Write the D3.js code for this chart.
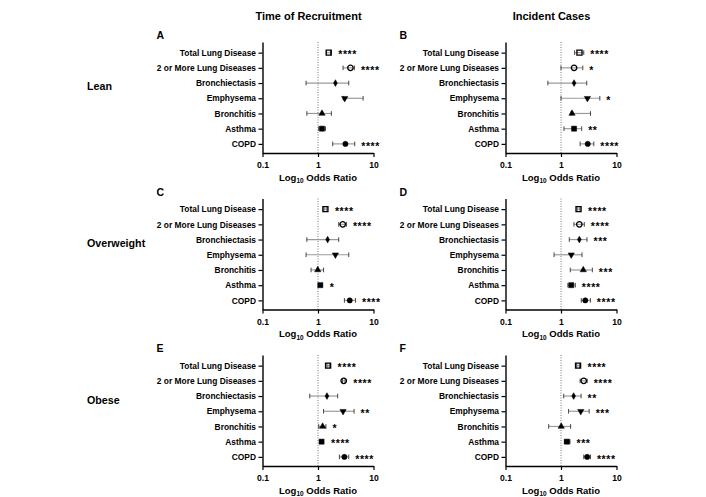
<!DOCTYPE html>
<html><head><meta charset="utf-8">
<script src="https://cdn.jsdelivr.net/npm/d3@7"></script>
<style>
body{margin:0;background:#fff;}
text{font-family:"Liberation Sans",Arial,sans-serif;font-weight:bold;fill:#000;}
</style></head>
<body><svg id="c" width="706" height="497"></svg>
<script>
const categories = ["Total Lung Disease","2 or More Lung Diseases","Bronchiectasis","Emphysema","Bronchitis","Asthma","COPD"];
const markers = ["openSquare","openCircle","diamond","triDown","triUp","square","circle"];
const columnTitles = ["Time of Recruitment","Incident Cases"];
const rowTitles = ["Lean","Overweight","Obese"];
const panelLetters = ["A","B","C","D","E","F"];
const tickValues = [0.1, 1, 10];
const tickLabels = ["0.1","1","10"];

// Odds ratios, lower CI, upper CI, significance per panel
const orA = [1.56, 3.84, 2.06, 3.03, 1.18, 1.18, 3.12];
const loA = [1.42, 2.83, 0.61, 2.85, 0.63, 1.03, 1.84];
const hiA = [1.68, 4.53, 3.58, 6.50, 1.74, 1.36, 4.59];
const sigA = ["****","****","","","","","****"];

const orB = [2.15, 1.72, 1.72, 2.99, 1.58, 1.72, 3.03];
const loB = [1.76, 1.00, 0.58, 1.00, 1.52, 1.13, 2.21];
const hiB = [2.57, 2.47, 2.91, 5.01, 3.40, 2.36, 3.90];
const sigB = ["****","*","","*","","**","****"];

const orC = [1.36, 2.79, 1.49, 2.06, 0.99, 1.10, 3.73];
const loC = [1.28, 2.36, 0.63, 0.61, 0.75, 1.02, 2.99];
const hiC = [1.45, 3.25, 2.36, 3.58, 1.26, 1.18, 4.73];
const sigC = ["****","****","","","","*","****"];

const orD = [2.07, 2.14, 2.14, 1.53, 2.52, 1.53, 2.74];
const loD = [1.95, 1.71, 1.41, 0.75, 1.47, 1.33, 2.32];
const hiD = [2.20, 2.63, 2.94, 2.39, 3.67, 1.81, 3.38];
const sigD = ["****","****","***","","***","****","****"];

const orE = [1.52, 2.91, 1.45, 2.83, 1.21, 1.16, 2.99];
const loE = [1.45, 2.75, 0.71, 1.26, 1.03, 1.10, 2.43];
const hiE = [1.60, 3.08, 2.26, 4.47, 1.39, 1.23, 3.58];
const sigE = ["****","****","","**","*","****","****"];

const orF = [2.03, 2.57, 1.69, 2.27, 1.01, 1.28, 2.96];
const loF = [1.92, 2.21, 1.12, 1.37, 0.60, 1.15, 2.57];
const hiF = [2.15, 2.96, 2.30, 3.22, 1.49, 1.45, 3.39];
const sigF = ["****","****","**","***","","***","****"];

const panels = [
  {letter:"A", col:0, row:0, or:orA, lo:loA, hi:hiA, sig:sigA},
  {letter:"B", col:1, row:0, or:orB, lo:loB, hi:hiB, sig:sigB},
  {letter:"C", col:0, row:1, or:orC, lo:loC, hi:hiC, sig:sigC},
  {letter:"D", col:1, row:1, or:orD, lo:loD, hi:hiD, sig:sigD},
  {letter:"E", col:0, row:2, or:orE, lo:loE, hi:hiE, sig:sigE},
  {letter:"F", col:1, row:2, or:orF, lo:loF, hi:hiF, sig:sigF}
];

const svg = d3.select("#c");
const colX = [262.5, 505.5];
const rowY = [42, 198.5, 355];
const W = 111, H = 111;

columnTitles.forEach((t,i)=>{
  svg.append("text").attr("x", colX[i] + 46).attr("y", 20)
    .attr("text-anchor","middle").style("font-size","11px").text(t);
});
const rowTitleY = [89.5, 247, 404];
rowTitles.forEach((t,i)=>{
  svg.append("text").attr("x", 87).attr("y", rowTitleY[i])
    .style("font-size","10.7px").text(t);
});

const symGen = {
  openSquare: d3.symbol().type(d3.symbolSquare).size(26),
  openCircle: d3.symbol().type(d3.symbolCircle).size(24),
  diamond: d3.symbol().type(d3.symbolDiamond).size(13),
  triDown: d3.symbol().type(d3.symbolTriangle).size(17),
  triUp: d3.symbol().type(d3.symbolTriangle).size(17),
  square: d3.symbol().type(d3.symbolSquare).size(26),
  circle: d3.symbol().type(d3.symbolCircle).size(22)
};

panels.forEach(p=>{
  const g = svg.append("g").attr("transform", `translate(${colX[p.col]},${rowY[p.row]})`);
  const x = d3.scaleLog().domain([0.1,10]).range([0,W]);
  const y = d3.scaleLinear().domain([-0.7,6.6]).range([0,H]);

  g.append("text").attr("x", -106).attr("y", -3).style("font-size","10.5px").text(p.letter);

  g.append("line").attr("x1", x(1)).attr("x2", x(1)).attr("y1", 0).attr("y2", H)
    .attr("stroke","#777").attr("stroke-width",1).attr("stroke-dasharray","1,1.5");

  const xAxis = d3.axisBottom(x).tickValues(tickValues)
    .tickFormat((d,i)=>tickLabels[i]).tickSize(4).tickSizeOuter(0);
  const gx = g.append("g").attr("transform",`translate(0,${H})`).call(xAxis);
  gx.select(".domain").attr("stroke","#000").attr("stroke-width",1.4);
  gx.selectAll(".tick line").attr("stroke","#000").attr("stroke-width",1.2);
  gx.selectAll(".tick text").attr("dy","0.95em").style("font-size","8.6px")
    .style("font-family",'"Liberation Sans",Arial,sans-serif').style("font-weight","bold");

  const yAxis = d3.axisLeft(y).tickValues(d3.range(categories.length))
    .tickFormat(i=>categories[i]).tickSize(4).tickSizeOuter(0).tickPadding(2.5);
  const gy = g.append("g").call(yAxis);
  gy.select(".domain").attr("stroke","#000").attr("stroke-width",1.4);
  gy.selectAll(".tick line").attr("stroke","#000").attr("stroke-width",1.2);
  gy.selectAll(".tick text").style("font-size","8.4px")
    .style("font-family",'"Liberation Sans",Arial,sans-serif').style("font-weight","bold");

  const idx = d3.range(categories.length);
  g.selectAll(".eb").data(idx).join("line")
    .attr("x1", i=>x(p.lo[i])).attr("x2", i=>x(p.hi[i]))
    .attr("y1", i=>y(i)).attr("y2", i=>y(i))
    .attr("stroke","#9a9a9a").attr("stroke-width",1.2);
  ["lo","hi"].forEach(k=>{
    g.selectAll(".cap"+k).data(idx).join("line")
      .attr("x1", i=>x(p[k][i])).attr("x2", i=>x(p[k][i]))
      .attr("y1", i=>y(i)-2.3).attr("y2", i=>y(i)+2.3)
      .attr("stroke","#444").attr("stroke-width",1);
  });
  g.selectAll(".mk").data(idx).join("path")
    .attr("d", i=>symGen[markers[i]]())
    .attr("transform", i=>`translate(${x(p.or[i])},${y(i)})` + (markers[i]==="triDown"?" rotate(180)":""))
    .attr("fill", i=>markers[i].startsWith("open") ? "none" : "#000")
    .attr("stroke","#000")
    .attr("stroke-width", i=>markers[i].startsWith("open") ? 1.3 : 0.5);
  g.selectAll(".sig").data(idx.filter(i=>p.sig[i])).join("text")
    .attr("x", i=>Math.max(x(p.hi[i]), x(p.or[i])+3) + 6.5)
    .attr("y", i=>y(i)+5.8)
    .style("font-size","10.5px").style("letter-spacing","0.6px")
    .text(i=>p.sig[i]);

  const t = g.append("text").attr("x", W/2).attr("y", H+27.5).attr("text-anchor","middle")
    .style("font-size","9.5px");
  t.append("tspan").text("Log");
  t.append("tspan").attr("dy","2.5").style("font-size","6.5px").text("10");
  t.append("tspan").attr("dy","-2.5").text(" Odds Ratio");
});
</script></body></html>
